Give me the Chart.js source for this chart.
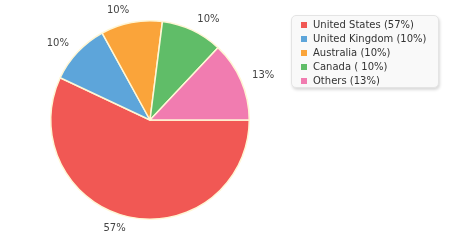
<!DOCTYPE html>
<html>
<head>
<meta charset="utf-8">
<script src="https://cdn.jsdelivr.net/npm/chart.js@4/dist/chart.umd.min.js"></script>
<style>
  html, body { margin: 0; padding: 0; background: #fff; }
  #wrap { position: relative; width: 450px; height: 250px; }
  #legend {
    position: absolute; left: 291px; top: 15px; width: 148px; height: 73px;
    background: #f9f9f9; border: 1px solid #e4e4e4; border-radius: 5px;
    box-shadow: 1px 2px 3px rgba(0,0,0,0.15);
    font-family: "DejaVu Sans", Verdana, sans-serif; font-size: 10px; color: #333;
    box-sizing: border-box; padding-top: 2px;
  }
  .item { position: relative; height: 14px; line-height: 14px; padding-left: 21px; white-space: nowrap; }
  .sw { position: absolute; left: 9px; top: 4px; width: 6px; height: 6px; }
</style>
</head>
<body>
<div id="wrap">
  <canvas id="c" width="450" height="250"></canvas>
  <div id="legend"></div>
</div>
<script>
const categories = ["United States", "United Kingdom", "Australia", "Canada", "Others"];
const values = [57, 10, 10, 10, 13];
const sliceLabels = ["57%", "10%", "10%", "10%", "13%"];
const legendLabels = ["United States (57%)", "United Kingdom (10%)", "Australia (10%)", "Canada ( 10%)", "Others (13%)"];
const colors = ["#F15854", "#5DA5DA", "#FAA43A", "#60BD68", "#F17CB0"];

const lg = document.getElementById('legend');
legendLabels.forEach((t, i) => {
  const d = document.createElement('div');
  d.className = 'item';
  d.innerHTML = '<span class="sw" style="background:' + colors[i] + '"></span>' + t;
  lg.appendChild(d);
});

const outsideLabels = {
  id: 'outsideLabels',
  afterDatasetsDraw(chart) {
    const ctx = chart.ctx;
    const meta = chart.getDatasetMeta(0);
    ctx.save();
    ctx.font = '10px "DejaVu Sans", Verdana, sans-serif';
    ctx.fillStyle = '#444';
    ctx.textBaseline = 'middle';
    meta.data.forEach((arc, i) => {
      const p = arc.getProps(['x', 'y', 'startAngle', 'endAngle', 'outerRadius'], true);
      const mid = (p.startAngle + p.endAngle) / 2;
      const r = p.outerRadius + 12;
      const x = p.x + Math.cos(mid) * r;
      const y = p.y + Math.sin(mid) * r;
      ctx.textAlign = Math.cos(mid) < 0 ? 'right' : 'left';
      ctx.fillText(sliceLabels[i], x, y);
    });
    ctx.restore();
  }
};

new Chart(document.getElementById('c'), {
  type: 'pie',
  data: {
    labels: categories,
    datasets: [{
      data: values,
      backgroundColor: colors,
      borderColor: '#FFF6D5',
      borderWidth: 1.5
    }]
  },
  options: {
    responsive: false,
    animation: false,
    rotation: 90,
    layout: { padding: { left: 50, right: 200, top: 20, bottom: 30 } },
    plugins: { legend: { display: false }, tooltip: { enabled: false } }
  },
  plugins: [outsideLabels]
});
</script>
</body>
</html>
